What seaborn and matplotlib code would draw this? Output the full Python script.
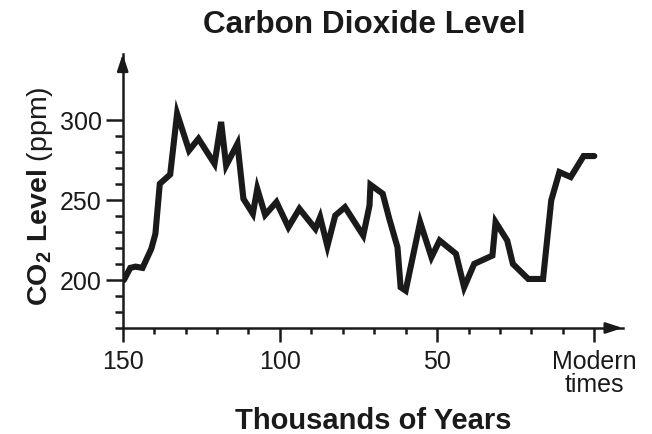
import numpy as np
import pandas as pd
import matplotlib
matplotlib.use('Agg')
import matplotlib.pyplot as plt
import seaborn as sns

# значения (тыс. лет назад, ppm)
years = [149.6, 147.6, 145.9, 143.7, 140.9, 139.6, 138.2, 134.9, 132.7, 128.9,
         125.9, 120.8, 118.7, 117.1, 113.5, 111.6, 108.6, 107.2, 104.7, 101.1,
         97.3, 93.8, 88.7, 87.2, 84.9, 82.4, 79.3, 73.5, 71.5, 71.2,
         67.3, 65.2, 62.6, 61.6, 60.0, 55.4, 51.8, 49.2, 44.0, 41.4,
         38.2, 32.4, 31.4, 27.7, 25.9, 21.0, 16.3, 13.7, 11.1, 7.5,
         3.4, 0.0]
co2 = [200, 207.5, 208.3, 207.5, 219.4, 228.8, 260, 265.8, 303.8, 280.8,
       288.1, 272.5, 298.6, 271.4, 285, 250.6, 241.3, 256.9, 240.6, 248.6,
       232.9, 244.4, 231.9, 239.2, 221.1, 240.2, 245.4, 227.7, 246.4, 259.4,
       253.8, 238.1, 220.4, 195.4, 193.3, 236.1, 214.2, 224.6, 216.3, 195.4,
       210, 215.2, 236.1, 224.6, 210, 200.6, 200.6, 249.6, 267.3, 264.2,
       277.3, 277.3]

x_major = [150, 100, 50, 0]
x_labels = ['150', '100', '50', 'Modern\ntimes']
x_minor = [140, 130, 120, 110, 90, 80, 70, 60, 40, 30, 20, 10]
y_major = [200, 250, 300]
y_minor = [170, 180, 190, 210, 220, 230, 240, 260, 270, 280, 290]

df = pd.DataFrame({'years': years, 'co2': co2})

sns.set_style('ticks')
plt.rcParams['font.family'] = ['Liberation Sans', 'DejaVu Sans']
plt.rcParams['mathtext.fontset'] = 'custom'
plt.rcParams['mathtext.rm'] = 'Liberation Sans'
plt.rcParams['mathtext.bf'] = 'Liberation Sans:bold'

ink = '#1a1a1a'
fig = plt.figure(figsize=(6.52, 4.35), dpi=100)
ax = fig.add_axes([0.1882, 0.2437, 0.7667, 0.6299])

sns.lineplot(data=df, x='years', y='co2', ax=ax, color=ink, linewidth=4.4,
             estimator=None, sort=False)
ax.lines[0].set_solid_joinstyle('miter')

ax.set_xlim(150, -9)
ax.set_ylim(170, 341)

ax.set_xticks(x_major)
ax.set_xticklabels(x_labels, fontsize=18, linespacing=0.95)
ax.set_xticks(x_minor, minor=True)
ax.set_yticks(y_major)
ax.set_yticklabels([str(v) for v in y_major], fontsize=18)
ax.set_yticks(y_minor, minor=True)

ax.tick_params(axis='x', which='both', bottom=True, top=False)
ax.tick_params(axis='y', which='both', left=True, right=False)
ax.tick_params(axis='x', which='major', direction='out', length=10, width=1.8,
               color=ink, labelcolor=ink, pad=5)
ax.tick_params(axis='x', which='minor', direction='out', length=4.5, width=1.8, color=ink)
ax.tick_params(axis='y', which='major', direction='out', length=12, width=1.8,
               color=ink, labelcolor=ink, pad=3)
ax.tick_params(axis='y', which='minor', direction='out', length=6, width=1.8, color=ink)

for s in ['top', 'right']:
    ax.spines[s].set_visible(False)
for s in ['left', 'bottom']:
    ax.spines[s].set_linewidth(1.8)
    ax.spines[s].set_color(ink)

# стрелки на концах осей
arrow = dict(arrowstyle='-|>,head_length=1.0,head_width=0.33', color=ink, lw=1.8,
             shrinkA=0, shrinkB=0)
ax.annotate('', xy=(1.0, 0), xytext=(0.97, 0), xycoords='axes fraction',
            textcoords='axes fraction', arrowprops=arrow, annotation_clip=False)
ax.annotate('', xy=(0, 1.0), xytext=(0, 0.95), xycoords='axes fraction',
            textcoords='axes fraction', arrowprops=arrow, annotation_clip=False)

ax.set_xlabel('')
ax.set_ylabel(r'$\mathbf{CO_2\ Level}$ (ppm)', fontsize=20.5, color=ink)
ax.yaxis.set_label_coords(-0.135, 0.484)

fig.text(0.558, 0.924, 'Carbon Dioxide Level', fontsize=22.7, fontweight='bold',
         ha='center', va='baseline', color=ink)
fig.text(0.572, 0.014, 'Thousands of Years', fontsize=21, fontweight='bold',
         ha='center', va='baseline', color=ink)

fig.savefig('out.png', dpi=100)
